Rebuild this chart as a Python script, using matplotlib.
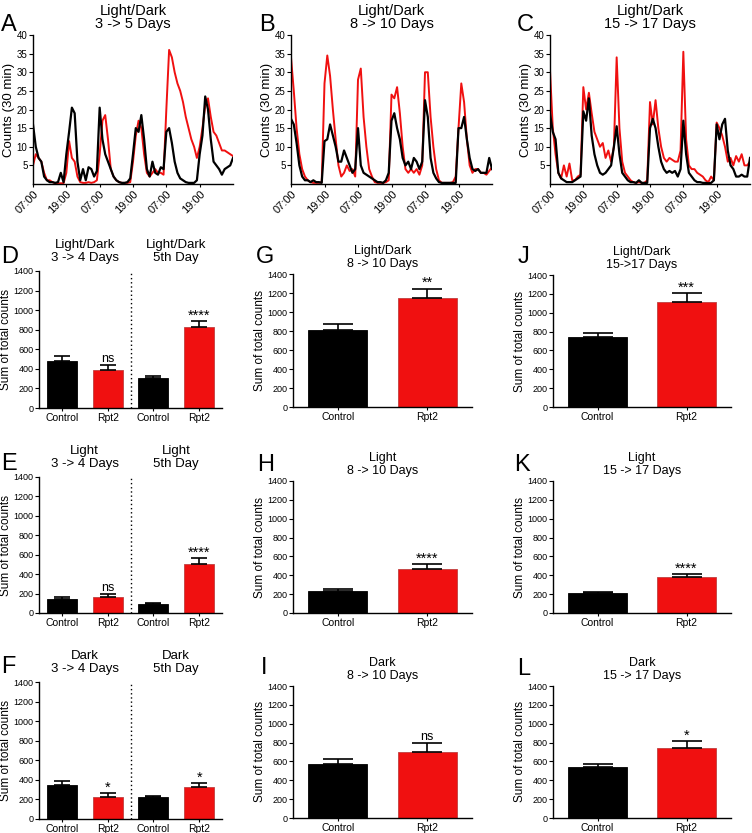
import matplotlib
matplotlib.use("Agg")
import matplotlib.pyplot as plt
import numpy as np

plt.rcParams['font.family'] = ['Liberation Sans', 'DejaVu Sans']

# ---------------- data: activity traces (hourly, 0 = 07:00) ----------------
hours = list(range(73))
time_ticks = [0, 12, 24, 36, 48, 60]
time_labels = ['07:00', '19:00', '07:00', '19:00', '07:00', '19:00']

A_control = [16, 10, 7, 6, 2, 1, 0.5, 0.5, 0.3, 0.5, 3, 0.5,
             8, 14, 20.5, 19, 6, 1, 4, 1, 4.5, 4, 2, 3.5,
             20.5, 12, 8, 6, 4, 2, 1, 0.5, 0.3, 0.3, 0.5, 1.5,
             8, 15, 14, 18.5, 12, 4, 2, 6, 3, 2.5, 4.5, 4,
             14, 15, 11, 6, 3, 1.5, 1, 0.5, 0.3, 0.3, 0.3, 1,
             8, 13, 23.5, 20, 12, 6, 5, 4, 2.5, 4, 4.5, 5, 7]
A_rpt2 = [5, 8, 7, 6, 3, 1, 1, 0.5, 0.2, 0.2, 0.2, 0.2,
          3, 11.5, 7, 6, 2, 0.5, 0.3, 0.3, 0.5, 0.3, 0.5, 1,
          8, 17, 18.5, 12, 4, 2, 1, 0.5, 0.3, 0.3, 0.3, 0.5,
          6, 13, 17, 15, 8, 3, 2, 3, 4, 3, 3, 2.5,
          20, 36, 34, 30, 27, 25, 22, 18, 15, 12, 10, 7,
          10, 15, 21, 23, 18, 14, 13, 11, 9, 9, 8.5, 8, 7.5]

B_control = [17.5, 16, 11, 5, 2, 1, 1, 0.5, 1, 0.5, 0.5, 0.3,
             11.5, 12, 16, 13, 10, 6, 6, 9, 7, 5, 3, 4,
             15, 5, 3, 2.5, 2, 1.5, 1, 0.5, 0.5, 0.3, 1, 3,
             17, 19, 15, 12, 7, 5, 6, 4, 7, 6, 4, 6,
             22.5, 18, 7, 3, 1.5, 0.5, 0.3, 0.3, 0.3, 0.3, 0.3, 0.3,
             15, 15, 18, 12, 7, 4, 3.5, 4, 3, 3, 3, 7, 4]
B_rpt2 = [34, 25, 15, 8, 4, 2, 1, 0.5, 0.3, 0.3, 0.3, 0.5,
          27, 34.5, 29, 20, 12, 5, 2, 3, 5, 3.5, 4, 2,
          28, 31, 18, 10, 4, 2, 0.5, 0.3, 0.3, 0.3, 0.5, 1,
          24, 23, 26, 19, 10, 4, 3, 4, 3, 4, 2.5, 5,
          30, 30, 18, 10, 4, 1, 0.3, 0.3, 0.3, 0.3, 0.5, 2,
          15, 27, 22, 12, 5, 3, 4, 4, 3, 3, 2.5, 3.5, 4.5]

C_control = [19, 14, 12, 3, 1.5, 1, 0.5, 0.5, 0.5, 1, 1.5, 2,
             19.5, 17, 23, 13, 8, 5, 3, 2.5, 3, 4, 5, 10,
             15.5, 8, 3, 2, 1, 0.5, 0.5, 0.3, 1, 0.3, 0.3, 0.3,
             15, 17.5, 15, 10, 6, 4, 3, 3.5, 3, 3.5, 2, 4,
             17, 8, 3, 2, 1, 0.5, 0.5, 0.3, 0.3, 0.2, 0.3, 1,
             16, 12, 16, 17.5, 9, 5, 4, 2, 2, 2.5, 2, 2, 7]
C_rpt2 = [30.5, 15, 8, 3, 1.5, 5, 2, 5.5, 1, 1, 2, 2.5,
          26, 20, 24.5, 19, 14, 12, 10, 11, 7, 9, 6, 10,
          34, 15, 6, 3, 2, 1, 0.5, 0.3, 0.5, 0.3, 0.3, 1,
          22, 16, 22.5, 15, 10, 7, 6, 7, 6.5, 6, 6, 9,
          35.5, 12, 5, 4, 4, 3, 2.5, 2, 1, 0.5, 2, 1,
          16.5, 15, 13, 10, 6, 7, 5, 7.5, 6, 8, 5, 5, 6]

# ---------------- data: bar panels ----------------
groups4 = ['Control', 'Rpt2', 'Control', 'Rpt2']
groups2 = ['Control', 'Rpt2']

D_mean = [482, 387, 306, 826]; D_err = [48, 51, 24, 61]; D_sig = ['', 'ns', '', '****']
E_mean = [142, 163, 92, 508];  E_err = [21, 30, 10, 58];  E_sig = ['', 'ns', '', '****']
F_mean = [352, 227, 220, 325]; F_err = [33, 37, 20, 44]; F_sig = ['', '*', '', '*']

G_mean = [809, 1150]; G_err = [63, 95]; G_sig = ['', '**']
H_mean = [237, 470];  H_err = [18, 46]; H_sig = ['', '****']
I_mean = [569, 703];  I_err = [57, 89]; I_sig = ['', 'ns']
J_mean = [744, 1111]; J_err = [42, 95]; J_sig = ['', '***']
K_mean = [209, 378];  K_err = [10, 32]; K_sig = ['', '****']
L_mean = [541, 746];  L_err = [32, 71]; L_sig = ['', '*']

RED = '#f01010'
W, H = 752, 833
fig = plt.figure(figsize=(W / 100, H / 100), dpi=100)


def add_ax(left, top, right, bottom):
    return fig.add_axes([left / W, 1 - bottom / H, (right - left) / W, (bottom - top) / H])


def style(ax):
    for s in ['top', 'right']:
        ax.spines[s].set_visible(False)
    for s in ['left', 'bottom']:
        ax.spines[s].set_linewidth(1.0)
    ax.tick_params(direction='out', length=3, width=0.8, labelsize=6.5, pad=1.5)


def trace_panel(box, ctrl, rpt, title):
    ax = add_ax(*box)
    ax.plot(hours, rpt, color=RED, lw=1.4)
    ax.plot(hours, ctrl, color='black', lw=1.6)
    ax.set_xlim(0, 72)
    ax.set_ylim(0, 40)
    ax.set_yticks([5, 10, 15, 20, 25, 30, 35, 40])
    ax.set_xticks(time_ticks)
    ax.set_xticklabels(time_labels, rotation=45, ha='right', rotation_mode='anchor')
    style(ax)
    ax.tick_params(axis='y', labelsize=7, pad=1)
    ax.tick_params(axis='x', labelsize=8, length=2)
    ax.set_ylabel('Counts (30 min)', fontsize=9.5, labelpad=1)
    ax.set_title(title, fontsize=10.5, pad=5, linespacing=0.95)
    return ax


def bar_panel(box, names, means, errs, sigs, title=None, half_titles=None):
    ax = add_ax(*box)
    x = np.arange(len(means))
    cols = ['black' if n == 'Control' else RED for n in names]
    edges = ['black' if n == 'Control' else '#c04040' for n in names]
    ax.bar(x, means, width=0.66, color=cols, edgecolor=edges, linewidth=0.6, zorder=2)
    bar_px = (box[2] - box[0]) / len(means) * 0.66
    cap = bar_px / 4 * 72 / 100
    ax.errorbar(x, means, yerr=[np.zeros(len(errs)), errs], fmt='none',
                ecolor='black', elinewidth=1.2, capsize=cap, capthick=1.2, zorder=3)
    for xi, m, e, s in zip(x, means, errs, sigs):
        if s == 'ns':
            ax.text(xi, m + e + 5, s, ha='center', va='bottom', fontsize=9)
        elif s:
            ax.text(xi, m + e - 15, s, ha='center', va='bottom', fontsize=10.5)
    ax.set_ylim(0, 1400)
    ax.set_yticks(range(0, 1401, 200))
    ax.set_xlim(-0.5, len(means) - 0.5)
    ax.set_xticks(x)
    ax.set_xticklabels(names)
    style(ax)
    ax.tick_params(axis='y', labelsize=6.5, pad=1)
    ax.tick_params(axis='x', length=2, labelsize=7.5)
    ax.set_ylabel('Sum of total counts', fontsize=8.5, labelpad=1)
    if len(means) == 4:
        ax.plot([1.5, 1.5], [0, 1400], color='black', ls=(0, (1, 2)), lw=1.0)
    if title:
        ax.set_title(title, fontsize=9, pad=5, linespacing=1.1)
    if half_titles:
        for xc, t in zip([0.5, 2.5], half_titles):
            ax.annotate(t, xy=(xc, 1), xycoords=('data', 'axes fraction'),
                        xytext=(0, 5), textcoords='offset points',
                        ha='center', va='bottom', fontsize=9.5, linespacing=1.1)
    return ax


trace_panel((33, 35, 233, 184), A_control, A_rpt2, 'Light/Dark\n3 -> 5 Days')
trace_panel((291, 35, 492, 184), B_control, B_rpt2, 'Light/Dark\n8 -> 10 Days')
trace_panel((550, 35, 750, 184), C_control, C_rpt2, 'Light/Dark\n15 -> 17 Days')

bar_panel((39, 271, 222, 408), groups4, D_mean, D_err, D_sig,
          half_titles=['Light/Dark\n3 -> 4 Days', 'Light/Dark\n5th Day'])
bar_panel((39, 477, 222, 613), groups4, E_mean, E_err, E_sig,
          half_titles=['Light\n3 -> 4 Days', 'Light\n5th Day'])
bar_panel((39, 682, 222, 819), groups4, F_mean, F_err, F_sig,
          half_titles=['Dark\n3 -> 4 Days', 'Dark\n5th Day'])

bar_panel((293, 274, 472, 407), groups2, G_mean, G_err, G_sig, title='Light/Dark\n8 -> 10 Days')
bar_panel((293, 481, 472, 613), groups2, H_mean, H_err, H_sig, title='Light\n8 -> 10 Days')
bar_panel((293, 686, 472, 818), groups2, I_mean, I_err, I_sig, title='Dark\n8 -> 10 Days')

bar_panel((553, 275, 731, 407), groups2, J_mean, J_err, J_sig, title='Light/Dark\n15->17 Days')
bar_panel((553, 481, 731, 613), groups2, K_mean, K_err, K_sig, title='Light\n15 -> 17 Days')
bar_panel((553, 686, 731, 818), groups2, L_mean, L_err, L_sig, title='Dark\n15 -> 17 Days')

letters = [('A', 1, 25), ('B', 259, 25), ('C', 517, 25),
           ('D', 1, 257), ('G', 256, 257), ('J', 518, 257),
           ('E', 1, 464), ('H', 257, 465), ('K', 514, 465),
           ('F', 1, 667), ('I', 261, 668), ('L', 517, 669)]
for t, px, py in letters:
    fig.text(px / W, 1 - py / H, t, fontsize=17, ha='left', va='center')

fig.savefig('out.png', dpi=100)
